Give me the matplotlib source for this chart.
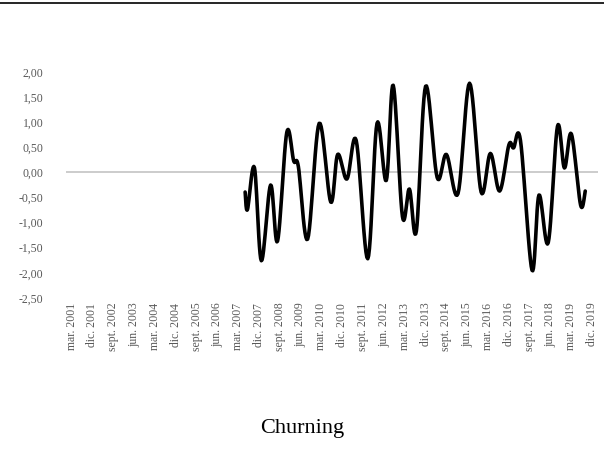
import matplotlib.pyplot as plt
import numpy as np

# fechas (mensual) y valores
dates = ["2007-06", "2007-07", "2007-10", "2008-01", "2008-05", "2008-08", "2008-12",
         "2009-03", "2009-05", "2009-09", "2010-02", "2010-07", "2010-10", "2011-02",
         "2011-06", "2011-11", "2012-03", "2012-07", "2012-10", "2013-02", "2013-05",
         "2013-08", "2013-12", "2014-05", "2014-09", "2015-02", "2015-07", "2015-12",
         "2016-04", "2016-08", "2016-12", "2017-02", "2017-05", "2017-10", "2018-01",
         "2018-05", "2018-09", "2018-12", "2019-03", "2019-07", "2019-09"]
values = [-0.39, -0.74, 0.10, -1.76, -0.25, -1.37, 0.80, 0.23, 0.12, -1.33, 0.98,
          -0.59, 0.36, -0.13, 0.64, -1.72, 0.98, -0.16, 1.74, -0.88, -0.33, -1.17,
          1.72, -0.10, 0.36, -0.42, 1.78, -0.39, 0.38, -0.37, 0.55, 0.49, 0.64,
          -1.95, -0.45, -1.40, 0.92, 0.09, 0.77, -0.65, -0.37]

mes_abbr = {3: "mar.", 6: "jun.", 9: "sept.", 12: "dic."}


def month_index(s):
    y, m = map(int, s.split("-"))
    return (y - 2001) * 12 + (m - 3)


def smooth_path(xs, ys, n=12):
    # curva Catmull-Rom (linea suavizada estilo Excel), solo para el trazado
    xs = np.asarray(xs, float)
    ys = np.asarray(ys, float)
    px = np.concatenate([[xs[0]], xs, [xs[-1]]])
    py = np.concatenate([[ys[0]], ys, [ys[-1]]])
    outx, outy = [], []
    t = np.linspace(0, 1, n, endpoint=False)
    for i in range(1, len(px) - 2):
        for arr, out in ((px, outx), (py, outy)):
            p0, p1, p2, p3 = arr[i - 1], arr[i], arr[i + 1], arr[i + 2]
            m1 = (p2 - p0) / 2
            m2 = (p3 - p1) / 2
            h00 = 2 * t**3 - 3 * t**2 + 1
            h10 = t**3 - 2 * t**2 + t
            h01 = -2 * t**3 + 3 * t**2
            h11 = t**3 - t**2
            out.extend(h00 * p1 + h10 * m1 + h01 * p2 + h11 * m2)
    outx.append(xs[-1])
    outy.append(ys[-1])
    return outx, outy


x = [month_index(d) for d in dates]
sx, sy = smooth_path(x, values)

# etiquetas cada 9 meses desde mar. 2001 hasta dic. 2019
tick_pos = list(range(0, 226, 9))
tick_lab = []
for i in tick_pos:
    m = 3 + i
    tick_lab.append(f"{mes_abbr[(m - 1) % 12 + 1]} {2001 + (m - 1) // 12}")

plt.rcParams["font.family"] = ["Liberation Serif", "DejaVu Serif"]

fig = plt.figure(figsize=(6.04, 4.72), dpi=100)
ax = fig.add_axes([0.109, 0.369, 0.881, 0.478])

ax.axhline(0, color="#c8c8c8", linewidth=1.3, zorder=1)
ax.plot(sx, sy, color="black", linewidth=2.6, solid_joinstyle="round",
        solid_capstyle="round", zorder=2)

ax.set_xlim(-2.5, 227.5)
ax.set_ylim(-2.5, 2.0)
ax.set_yticks(np.arange(-2.5, 2.01, 0.5))
ax.set_yticklabels([f"{v:.2f}".replace(".", ",") for v in np.arange(-2.5, 2.01, 0.5)])
ax.set_xticks(tick_pos)
ax.set_xticklabels(tick_lab, rotation=90)
ax.tick_params(axis="both", length=0, labelsize=8.5, labelcolor="#595959")
ax.tick_params(axis="y", pad=16)
for s in ax.spines.values():
    s.set_visible(False)

# linea negra superior
fig.add_artist(plt.Line2D([0, 1], [0.994, 0.994], color="black", linewidth=1.2))
fig.text(0.5, 0.093, "Churning", ha="center", va="center", fontsize=16)

plt.savefig("out.png", dpi=100)
